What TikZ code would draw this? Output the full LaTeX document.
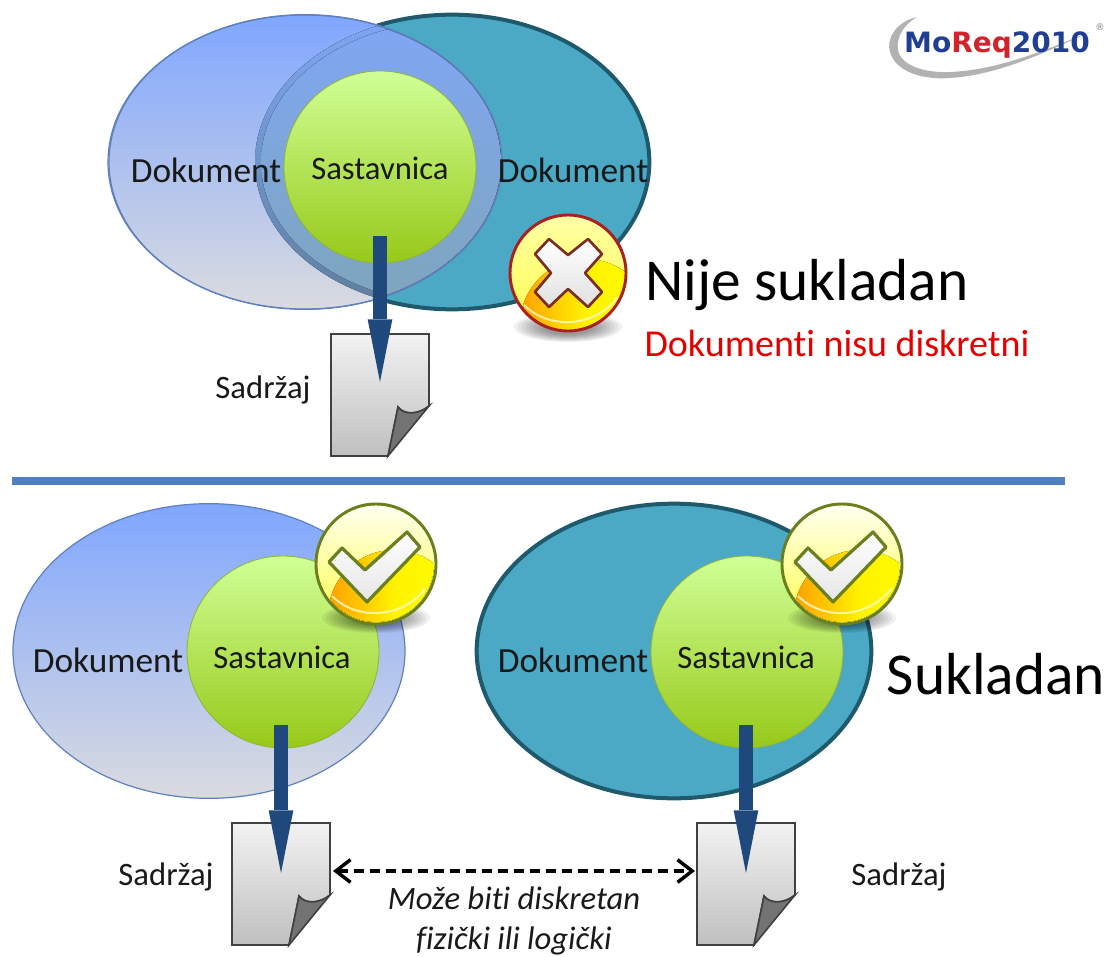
\documentclass[tikz,border=0pt]{standalone}
\usepackage{fontspec}
\setmainfont{Carlito}[Ligatures=CommonOff]
\newfontfamily\logofont{DejaVu Sans}
\usetikzlibrary{arrows.meta,positioning,shapes.geometric}
\definecolor{dokblueA}{HTML}{7FA6FF}
\definecolor{dokblueB}{HTML}{DADBDF}
\definecolor{dokline}{HTML}{5F80BC}
\definecolor{dokteal}{HTML}{4BA9C6}
\definecolor{dokedge}{HTML}{1E5A6C}
\definecolor{lensA}{HTML}{7FA6F4}
\definecolor{lensB}{HTML}{7EA6BC}
\definecolor{lensedge}{HTML}{5F7F9E}
\definecolor{greenA}{HTML}{D0FF96}
\definecolor{greenB}{HTML}{97C91A}
\definecolor{arrowblue}{HTML}{1F497D}
\definecolor{seprule}{HTML}{4F81BD}
\definecolor{logoblue}{HTML}{203F93}
\definecolor{logored}{HTML}{D2232A}
\definecolor{okolive}{HTML}{6A7F1E}
\definecolor{badred}{HTML}{A8201F}
\definecolor{badbrown}{HTML}{7A2E22}
\tikzset{
  dokone/.style={ellipse, draw=dokline, line width=0.9pt, top color=dokblueA, bottom color=dokblueB, shading angle=0, minimum width=294pt, minimum height=221pt, inner sep=0pt},
  doktwo/.style={ellipse, draw=dokedge, line width=3pt, fill=dokteal, minimum width=296pt, minimum height=221pt, inner sep=0pt},
  sastav/.style={circle, draw=greenB!70!gray, line width=0.6pt, top color=greenA, bottom color=greenB, minimum size=144pt, inner sep=0pt},
  lbl/.style={font=\fontsize{26.5}{30}\selectfont, text=black!90},
  smalllbl/.style={font=\fontsize{24.5}{28}\selectfont, text=black!90},
  biglbl/.style={font=\fontsize{44.5}{50}\selectfont, text=black},
  page/.style={draw=none, minimum width=73pt, minimum height=92pt, inner sep=0pt},
  flow/.style={arrowblue, line width=10pt, -{Triangle[length=47pt,width=18.5pt,line width=0pt]}},
  pics/sheet/.style={code={
    \draw[black!75, line width=1.2pt, top color=black!5, bottom color=black!25]
      (-49,-61) -- (49,-61) -- (49,11) .. controls (38,20) and (24,20) .. (18,12) -- (8,61) -- (-49,61) -- cycle;
    \draw[black!75, line width=1.2pt, fill=black!55]
      (49,11) .. controls (38,20) and (24,20) .. (18,12) -- (8,61) -- cycle;
  }},
  pics/ballbase/.style={code={
    \foreach \r in {1,...,8} {\fill[black, opacity=0.06] (0,54) ellipse ({58-4*\r} and {16-\r});}
    \fill[top color=#1, bottom color=yellow!70!white, shading angle=0] (0,0) circle (59);
    \begin{scope}
    \clip (0,0) circle (58);
    \fill[left color=orange!75!yellow, right color=yellow, middle color=yellow!90!orange] (18,52) circle (66);
    \draw[yellow!20!white, line width=1.5pt, opacity=0.8] (-44,32) .. controls (-20,56) and (25,56) .. (50,24);
    \end{scope}
  }},
  pics/okball/.style={code={
    \pic {ballbase=yellow!6!white};
    \draw[okolive, line width=2.2pt] (0,0) circle (60);
    \draw[okolive, line width=2.4pt, top color=white, bottom color=black!10, line join=round]
      (-47,-2) -- (-34,-16) -- (-11,6) -- (31,-32) -- (44,-17) -- (-9,38) -- cycle;
  }},
  pics/badball/.style={code={
    \pic {ballbase=yellow!35!white};
    \draw[badred, line width=2.2pt] (0,0) circle (58);
    \draw[badbrown, line width=2pt, top color=white, bottom color=black!12, line join=round]
      (-33,-19) -- (-19,-34) -- (0,-18) -- (20,-34) -- (34,-19) -- (17,0) -- (34,19) -- (20,34) -- (0,16) -- (-19,34) -- (-33,19) -- (-17,0) -- cycle;
  }}
}

\begin{document}
\begin{tikzpicture}[x=0.75pt, y=-0.75pt]
\useasboundingbox (0, 0) rectangle (1109, 956);
\fill[white] (0, 0) rectangle (1109, 956);

\path (452, 162) node (dokB)[doktwo] {}
(305, 162) node (dokA)[dokone] {};
\begin{scope}
\clip (305, 162) ellipse (196 and 146);
\fill[top color=lensA, bottom color=lensedge, shading angle=0] (452, 162) ellipse (197 and 147);
\fill[top color=lensA, bottom color=lensB, shading angle=0] (452, 162) ellipse (191 and 141);
\end{scope}
\draw[dokline, line width=0.9pt] (305, 162) ellipse (197 and 147);
\path (380, 167) node (sastavA)[sastav] {}
(206, 170) node (dokAlbl)[lbl] {Dokument}
(573, 170) node (dokBlbl)[lbl] {Dokument}
(380, 168) node (sastavAlbl)[smalllbl] {Sastavnica}
(380, 395) node (pageA)[page] {}
(263, 390) node (sadA)[smalllbl] {Sadržaj}
(380, 236) coordinate (startA)
(380, 382) coordinate (tipA)
(807, 285) node (nije)[biglbl] {Nije sukladan}
(837, 343) node (diskr)[font=\fontsize{28.5}{32}\selectfont, text=red!90!black] {Dokumenti nisu diskretni};
\pic at (pageA) {sheet};
\draw[flow] (startA) -- (tipA);
\pic at (568, 273) {badball};

\path (12, 481) coordinate (sepL)
(1065, 481) coordinate (sepR);
\draw[seprule, line width=5.5pt] (sepL) -- (sepR);

\path (209, 651) node (dokC)[dokone] {}
(674, 651) node (dokD)[doktwo] {}
(283, 652) node (sastavC)[sastav] {}
(747, 652) node (sastavD)[sastav] {}
(108, 660) node (dokClbl)[lbl] {Dokument}
(573, 660) node (dokDlbl)[lbl] {Dokument}
(282, 657) node (sastavClbl)[smalllbl] {Sastavnica}
(746, 657) node (sastavDlbl)[smalllbl] {Sastavnica}
(281, 884) node (pageC)[page] {}
(746, 884) node (pageD)[page] {}
(166, 877) node (sadC)[smalllbl] {Sadržaj}
(899, 877) node (sadD)[smalllbl] {Sadržaj}
(281, 725) coordinate (startC)
(281, 873) coordinate (tipC)
(746, 725) coordinate (startD)
(746, 873) coordinate (tipD)
(996, 674) node (sukl)[biglbl] {Sukladan}
(514, 921) node (moze)[align=center, font=\fontsize{24.5}{30}\selectfont\itshape, text=black!90] {Može biti diskretan\\fizički ili logički};
\pic at (pageC) {sheet};
\pic at (pageD) {sheet};
\draw[flow] (startC) -- (tipC);
\draw[flow] (startD) -- (tipD);
\path (333, 871) coordinate (linkL)
(695, 871) coordinate (linkR);
\draw[dash pattern=on 8pt off 4pt, line width=2.6pt, {Straight Barb[length=11pt,width=17pt,line width=2.6pt]}-{Straight Barb[length=11pt,width=17pt,line width=2.6pt]}] (linkL) -- (linkR);
\pic at (376, 564) {okball};
\pic at (842, 564) {okball};

\fill[black!30] (917, 17) .. controls (895, 22) and (886, 40) .. (890, 52) .. controls (896, 73) and (925, 80) .. (950, 78) .. controls (1000, 75) and (1050, 50) .. (1090, 32) .. controls (1050, 48) and (1000, 70) .. (950, 72) .. controls (925, 73) and (901, 66) .. (898, 50) .. controls (896, 38) and (903, 25) .. (917, 17) -- cycle;
\path (997, 45) node (logo)[font=\logofont\bfseries\fontsize{21}{24}\selectfont, text=logoblue, inner sep=0pt] {Mo\textcolor{logored}{Req}2010}
(1100, 27) node (logoreg)[font=\logofont\fontsize{7}{8}\selectfont, text=black!50, inner sep=0pt] {®};
\end{tikzpicture}
\end{document}
